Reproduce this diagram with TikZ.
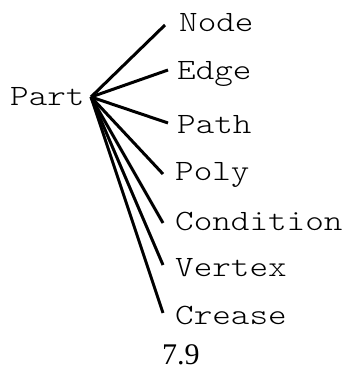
\documentclass[tikz,border=0pt]{standalone}
\usepackage{fontspec}
\newfontfamily\monofont[FakeStretch=1.2]{lmmonolt10-regular.otf}
\newfontfamily\seriffont{Liberation Serif}
\begin{document}
\begin{tikzpicture}[x=1pt,y=1pt,
  lbl/.style={anchor=base west,inner sep=0pt,font=\monofont\fontsize{29.5}{30}\selectfont},
  conn/.style={line width=3pt}]
\useasboundingbox (0,0) rectangle (344,368);
\node[lbl] (part) at (10,262) {Part};
\coordinate (hub) at (91,271);
\node[lbl] (node) at (179,337) {Node};
\node[lbl] (edge) at (177,288) {Edge};
\node[lbl] (path) at (177,235) {Path};
\node[lbl] (poly) at (175,187) {Poly};
\node[lbl] (cond) at (175,138) {Condition};
\node[lbl] (vert) at (175,92) {Vertex};
\node[lbl] (crea) at (175,43) {Crease};
\coordinate (enode) at (165,343);
\coordinate (eedge) at (168,298);
\coordinate (epath) at (168,245);
\coordinate (epoly) at (163,194);
\coordinate (econd) at (163,145);
\coordinate (evert) at (163,103);
\coordinate (ecrea) at (163,55);
\foreach \e in {enode,eedge,epath,epoly,econd,evert,ecrea}
  \draw[conn] (hub) -- (\e);
\node[anchor=base west,inner sep=0pt,font=\seriffont\fontsize{30}{30}\selectfont] (num) at (162,4) {7.9};
\end{tikzpicture}
\end{document}
